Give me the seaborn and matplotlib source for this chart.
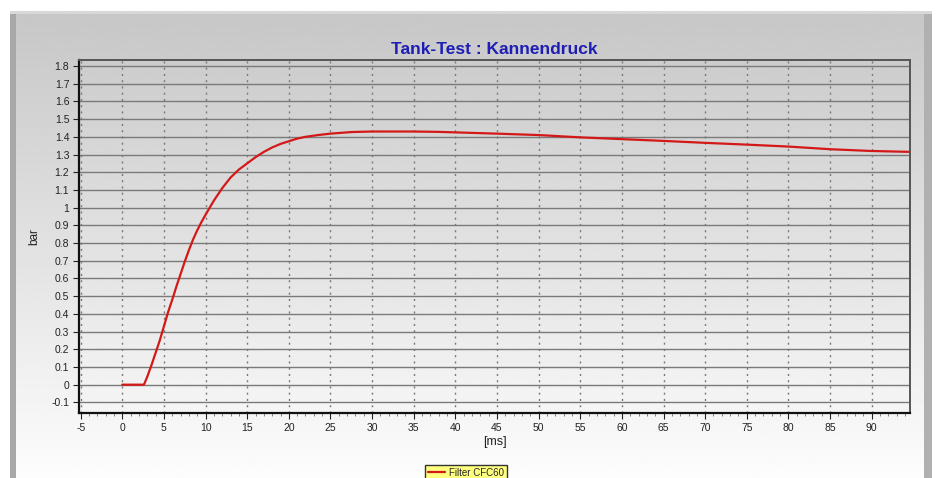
import matplotlib
matplotlib.use("Agg")
import matplotlib.pyplot as plt
import numpy as np
import pandas as pd
import seaborn as sns
from matplotlib.patches import Rectangle
from matplotlib.ticker import MultipleLocator, FuncFormatter

# Curve (time in ms, pressure in bar)
time_ms = [0, 2.6, 3.0, 3.5, 4, 4.5, 5, 5.5, 6, 6.5, 7, 7.5, 8, 8.5, 9, 9.5,
           10, 11, 12, 13, 14, 15, 16, 17, 18, 19, 20, 21, 22, 23.5, 25,
           27.5, 30, 35, 38, 45, 50, 55, 60, 65, 70, 75, 80, 85, 90, 94.6]
pressure_bar = [0, 0, 0.045, 0.11, 0.18, 0.25, 0.33, 0.41, 0.48, 0.555, 0.625,
                0.695, 0.76, 0.82, 0.872, 0.918, 0.96, 1.04, 1.11, 1.17, 1.215,
                1.25, 1.285, 1.315, 1.34, 1.36, 1.375, 1.39, 1.40, 1.41,
                1.418, 1.427, 1.43, 1.43, 1.428, 1.418, 1.41, 1.397, 1.387,
                1.377, 1.366, 1.356, 1.345, 1.33, 1.32, 1.315]
series_name = "Filter CFC60"
title = "Tank-Test : Kannendruck"

df = pd.DataFrame({"t": time_ms, "p": pressure_bar})

sns.set_theme(style="white")
plt.rcParams['font.family'] = ['Liberation Sans', 'DejaVu Sans']

W, H = 939, 478
fig = plt.figure(figsize=(W / 100, H / 100), dpi=100)
fig.patch.set_facecolor('white')

# Background panel with vertical grey-to-white gradient
bg = fig.add_axes([0, 0, 1, 1], zorder=-5)
bg.set_xlim(0, W)
bg.set_ylim(H, 0)
bg.axis('off')
grad = np.linspace(0.78, 0.99, 256).reshape(-1, 1)
bg.imshow(grad, cmap='gray', vmin=0, vmax=1, aspect='auto',
          extent=[14, 926, H, 13], interpolation='bilinear')
bg.add_patch(Rectangle((10, 13), 6, H - 13, color='#a8a8a8', lw=0))
bg.add_patch(Rectangle((924, 13), 8, H - 13, color='#b0b0b0', lw=0))
bg.add_patch(Rectangle((10, 11), 922, 2.5, color='#d8d8d8', lw=0))

# Main chart
ax = fig.add_axes([79 / W, 1 - 413 / H, (910 - 79) / W, (413 - 60) / H])
ax.patch.set_alpha(0)
sns.lineplot(data=df, x="t", y="p", ax=ax, color='#d41818', lw=1.6,
             label=series_name, legend=False)

ax.set_xlim(-5.2, 94.6)
ax.set_ylim(-0.16, 1.834)
ax.xaxis.set_major_locator(MultipleLocator(5))
ax.xaxis.set_minor_locator(MultipleLocator(1))
ax.yaxis.set_major_locator(MultipleLocator(0.1))
ax.yaxis.set_major_formatter(FuncFormatter(lambda v, _: f"{round(v, 2):g}"))
ax.xaxis.set_major_formatter(FuncFormatter(lambda v, _: f"{round(v):g}"))

ax.grid(axis='y', color='#7a7a7a', lw=1.0, ls='-')
ax.grid(axis='x', color='#7a7a7a', lw=1.0, ls=(0, (1.5, 3)))
ax.set_axisbelow(True)

ax.tick_params(axis='both', which='major', labelsize=7.5, colors='#222222',
               length=4, width=0.8, direction='out', pad=3)
ax.tick_params(axis='x', which='minor', length=2, width=0.5, direction='out',
               color='#555555')
ax.tick_params(bottom=True, left=True, which='major')
ax.tick_params(bottom=True, which='minor')

for side in ['left', 'bottom']:
    ax.spines[side].set_color('#111111')
    ax.spines[side].set_linewidth(1.6)
for side in ['top', 'right']:
    ax.spines[side].set_color('#555555')
    ax.spines[side].set_linewidth(1.4)

ax.set_xlabel("[ms]", fontsize=9, color='#222222', labelpad=2)
ax.set_ylabel("bar", fontsize=8.5, color='#222222', labelpad=8)
ax.set_title(title, fontsize=12.5, fontweight='bold', color='#1e1eb4', pad=4)

# Legend box sits at the bottom edge, partly cut off as in the reference
handles, labels = ax.get_legend_handles_labels()
leg = fig.legend(handles, labels, loc='upper center',
                 bbox_to_anchor=(466 / W, 1 - 460 / H), fontsize=7,
                 frameon=True, fancybox=False, handlelength=1.8,
                 borderpad=0.3, handletextpad=0.4)
leg.get_frame().set_facecolor('#ffff80')
leg.get_frame().set_edgecolor('#333333')
leg.get_frame().set_alpha(1)

fig.savefig("out.png", dpi=100)
